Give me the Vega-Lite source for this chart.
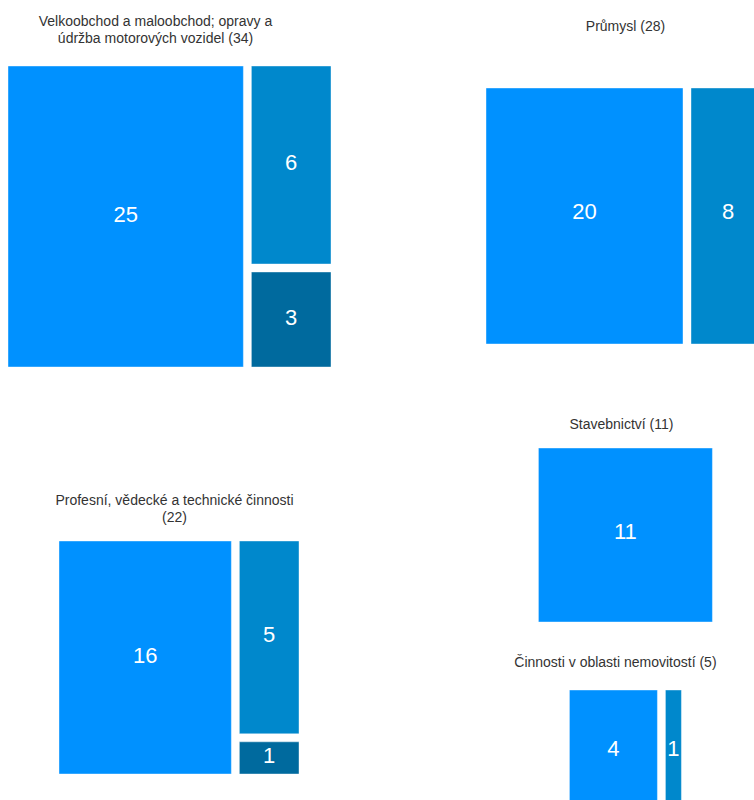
{
  "$schema": "https://vega.github.io/schema/vega-lite/v6.json",
  "background": "white",
  "padding": {"left": 4, "top": 15, "right": 0, "bottom": 0},
  "data": {
    "values": [
      {"panel": "Velkoobchod", "col": 1, "sub": 1, "value": 25},
      {"panel": "Velkoobchod", "col": 2, "sub": 2, "value": 6},
      {"panel": "Velkoobchod", "col": 2, "sub": 3, "value": 3},
      {"panel": "Průmysl", "col": 1, "sub": 1, "value": 20},
      {"panel": "Průmysl", "col": 2, "sub": 2, "value": 8},
      {"panel": "Profesní", "col": 1, "sub": 1, "value": 16},
      {"panel": "Profesní", "col": 2, "sub": 2, "value": 5},
      {"panel": "Profesní", "col": 2, "sub": 3, "value": 1},
      {"panel": "Stavebnictví", "col": 1, "sub": 1, "value": 11},
      {"panel": "Nemovitosti", "col": 1, "sub": 1, "value": 4},
      {"panel": "Nemovitosti", "col": 2, "sub": 2, "value": 1}
    ]
  },
  "transform": [
    {"joinaggregate": [{"op": "sum", "field": "value", "as": "panelTotal"}], "groupby": ["panel"]},
    {"stack": "value", "groupby": ["panel"], "sort": [{"field": "col", "order": "ascending"}, {"field": "sub", "order": "ascending"}], "as": ["sx0", "sx1"]},
    {"joinaggregate": [{"op": "min", "field": "sx0", "as": "cx0"}, {"op": "max", "field": "sx1", "as": "cx1"}], "groupby": ["panel", "col"]},
    {"stack": "value", "groupby": ["panel", "col"], "sort": [{"field": "sub", "order": "ascending"}], "offset": "normalize", "as": ["y0", "y1"]},
    {"calculate": "datum.cx0 / datum.panelTotal", "as": "x0"},
    {"calculate": "datum.cx1 / datum.panelTotal", "as": "x1"},
    {"calculate": "(datum.x0 + datum.x1) / 2", "as": "xm"},
    {"calculate": "(datum.y0 + datum.y1) / 2", "as": "ym"}
  ],
  "hconcat": [
    {
      "bounds": "flush",
      "vconcat": [
        {
          "width": 331, "height": 309,
          "title": {"text": ["Velkoobchod a maloobchod; opravy a", "údržba motorových vozidel (34)"], "offset": 16, "dx": -14},
          "transform": [{"filter": "datum.panel === 'Velkoobchod'"}],
          "layer": [
            {"mark": {"type": "rect", "xOffset": 4, "x2Offset": -4, "yOffset": 4, "y2Offset": -4, "stroke": "#ffffff", "strokeWidth": 1, "strokeOpacity": 0.4},
             "encoding": {
               "x": {"field": "x0", "type": "quantitative", "scale": {"domain": [0, 1], "nice": false}, "axis": null},
               "x2": {"field": "x1"},
               "y": {"field": "y0", "type": "quantitative", "scale": {"domain": [0, 1], "nice": false, "reverse": true}, "axis": null},
               "y2": {"field": "y1"},
               "color": {"field": "sub", "type": "nominal", "scale": {"domain": [1, 2, 3], "range": ["#0091ff", "#0088cc", "#006a9e"]}, "legend": null}
             }},
            {"mark": {"type": "text", "color": "#ffffff", "fontSize": 22, "font": "Liberation Sans", "baseline": "middle", "align": "center", "dy": -2},
             "encoding": {
               "x": {"field": "xm", "type": "quantitative"},
               "y": {"field": "ym", "type": "quantitative"},
               "text": {"field": "value", "type": "quantitative"}
             }}
          ]
        },
        {
          "width": 267, "height": 241,
          "title": {"text": ["Profesní, vědecké a technické činnosti", "(22)"], "offset": 12, "dx": 5},
          "transform": [{"filter": "datum.panel === 'Profesní'"}],
          "layer": [
            {"mark": {"type": "rect", "xOffset": 4, "x2Offset": -4, "yOffset": 4, "y2Offset": -4, "stroke": "#ffffff", "strokeWidth": 1, "strokeOpacity": 0.4},
             "encoding": {
               "x": {"field": "x0", "type": "quantitative", "scale": {"domain": [-0.0766, 1], "nice": false}, "axis": null},
               "x2": {"field": "x1"},
               "y": {"field": "y0", "type": "quantitative", "scale": {"domain": [0, 1], "nice": false, "reverse": true}, "axis": null},
               "y2": {"field": "y1"},
               "color": {"field": "sub", "type": "nominal", "scale": {"domain": [1, 2, 3], "range": ["#0091ff", "#0088cc", "#006a9e"]}, "legend": null}
             }},
            {"mark": {"type": "text", "color": "#ffffff", "fontSize": 22, "font": "Liberation Sans", "baseline": "middle", "align": "center", "dy": -2},
             "encoding": {
               "x": {"field": "xm", "type": "quantitative"},
               "y": {"field": "ym", "type": "quantitative"},
               "text": {"field": "value", "type": "quantitative"}
             }}
          ]
        }
      ],
      "spacing": 166,
      "center": true
    },
    {
      "vconcat": [
        {
          "width": 287, "height": 286,
          "title": {"text": "Průmysl (28)", "offset": 28},
          "transform": [{"filter": "datum.panel === 'Průmysl'"}],
          "layer": [
            {"mark": {"type": "rect", "xOffset": 4, "x2Offset": -4, "yOffset": 4, "y2Offset": -4, "stroke": "#ffffff", "strokeWidth": 1, "strokeOpacity": 0.4},
             "encoding": {
               "x": {"field": "x0", "type": "quantitative", "scale": {"domain": [0, 1], "nice": false}, "axis": null},
               "x2": {"field": "x1"},
               "y": {"field": "y0", "type": "quantitative", "scale": {"domain": [-0.0833, 1], "nice": false, "reverse": true}, "axis": null},
               "y2": {"field": "y1"},
               "color": {"field": "sub", "type": "nominal", "scale": {"domain": [1, 2, 3], "range": ["#0091ff", "#0088cc", "#006a9e"]}, "legend": null}
             }},
            {"mark": {"type": "text", "color": "#ffffff", "fontSize": 22, "font": "Liberation Sans", "baseline": "middle", "align": "center", "dy": -4},
             "encoding": {
               "x": {"field": "xm", "type": "quantitative"},
               "y": {"field": "ym", "type": "quantitative"},
               "text": {"field": "value", "type": "quantitative"}
             }}
          ]
        },
        {
          "bounds": "flush",
          "vconcat": [
            {
              "width": 182, "height": 182,
              "title": {"text": "Stavebnictví (11)", "offset": 12, "dx": -4},
              "transform": [{"filter": "datum.panel === 'Stavebnictví'"}],
              "layer": [
                {"mark": {"type": "rect", "xOffset": 4, "x2Offset": -4, "yOffset": 4, "y2Offset": -4, "stroke": "#ffffff", "strokeWidth": 1, "strokeOpacity": 0.4},
                 "encoding": {
                   "x": {"field": "x0", "type": "quantitative", "scale": {"domain": [0, 1], "nice": false}, "axis": null},
                   "x2": {"field": "x1"},
                   "y": {"field": "y0", "type": "quantitative", "scale": {"domain": [0, 1], "nice": false, "reverse": true}, "axis": null},
                   "y2": {"field": "y1"},
                   "color": {"field": "sub", "type": "nominal", "scale": {"domain": [1, 2, 3], "range": ["#0091ff", "#0088cc", "#006a9e"]}, "legend": null}
                 }},
                {"mark": {"type": "text", "color": "#ffffff", "fontSize": 22, "font": "Liberation Sans", "baseline": "middle", "align": "center", "dy": -3},
                 "encoding": {
                   "x": {"field": "xm", "type": "quantitative"},
                   "y": {"field": "ym", "type": "quantitative"},
                   "text": {"field": "value", "type": "quantitative"}
                 }}
              ]
            },
            {
              "width": 120, "height": 131,
              "title": {"text": "Činnosti v oblasti nemovitostí (5)", "offset": 16, "dx": -10},
              "transform": [{"filter": "datum.panel === 'Nemovitosti'"}],
              "layer": [
                {"mark": {"type": "rect", "xOffset": 4, "x2Offset": -4, "yOffset": 4, "y2Offset": -4, "stroke": "#ffffff", "strokeWidth": 1, "strokeOpacity": 0.4},
                 "encoding": {
                   "x": {"field": "x0", "type": "quantitative", "scale": {"domain": [0, 1], "nice": false}, "axis": null},
                   "x2": {"field": "x1"},
                   "y": {"field": "y0", "type": "quantitative", "scale": {"domain": [0, 1], "nice": false, "reverse": true}, "axis": null},
                   "y2": {"field": "y1"},
                   "color": {"field": "sub", "type": "nominal", "scale": {"domain": [1, 2, 3], "range": ["#0091ff", "#0088cc", "#006a9e"]}, "legend": null}
                 }},
                {"mark": {"type": "text", "color": "#ffffff", "fontSize": 22, "font": "Liberation Sans", "baseline": "middle", "align": "center", "dy": -3},
                 "encoding": {
                   "x": {"field": "xm", "type": "quantitative"},
                   "y": {"field": "ym", "type": "quantitative"},
                   "text": {"field": "value", "type": "quantitative"}
                 }}
              ]
            }
          ],
          "spacing": 60,
          "center": true
        }
      ],
      "spacing": 70,
      "center": true
    }
  ],
  "spacing": 147,
  "resolve": {"scale": {"color": "shared"}},
  "config": {
    "view": {"stroke": null},
    "title": {"font": "Liberation Sans", "fontSize": 14, "fontWeight": "normal", "color": "#333333", "lineHeight": 17, "anchor": "middle"}
  }
}
